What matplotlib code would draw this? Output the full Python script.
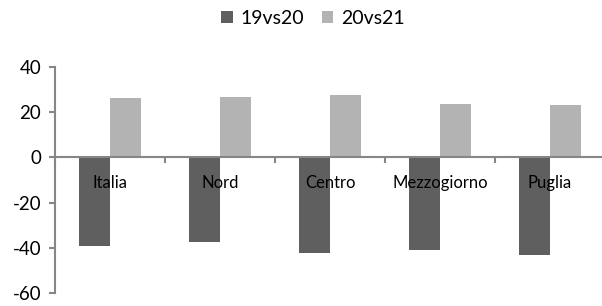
import matplotlib.pyplot as plt
import numpy as np

plt.rcParams['font.family'] = ['Lato', 'DejaVu Sans']
plt.rcParams['axes.unicode_minus'] = False

categories = ['Italia', 'Nord', 'Centro', 'Mezzogiorno', 'Puglia']
v19vs20 = [-39.3, -37.4, -42.4, -40.9, -43.4]
v20vs21 = [26.2, 26.6, 27.6, 23.5, 23.4]

axis_col = '#868686'
x = np.arange(len(categories))
w = 0.282

fig = plt.figure(figsize=(6.02, 3.06), dpi=100)
ax = fig.add_axes([55 / 602, 13 / 306, 550 / 602, 226 / 306])

ax.bar(x - w / 2, v19vs20, w, color='#5f5f5f', label='19vs20')
ax.bar(x + w / 2, v20vs21, w, color='#b3b3b3', label='20vs21')

ax.set_xlim(-0.5, len(categories) - 0.5)
ax.set_ylim(-60, 40)
ax.set_yticks([40, 20, 0, -20, -40, -60])

ax.spines['top'].set_visible(False)
ax.spines['right'].set_visible(False)
ax.spines['bottom'].set_position(('data', 0))
for s in ('left', 'bottom'):
    ax.spines[s].set_color(axis_col)
    ax.spines[s].set_linewidth(1.5)

ax.set_xticks(x)
ax.set_xticklabels(categories, fontsize=12)
ax.set_xticks(np.arange(len(categories) + 1) - 0.5, minor=True)
ax.tick_params(axis='x', which='major', length=0, pad=13)
ax.tick_params(axis='x', which='minor', length=4, width=1.5, color=axis_col, direction='out')
ax.tick_params(axis='y', length=4, width=1.5, color=axis_col, labelsize=13.5, pad=6)

fig.legend(loc='upper center', bbox_to_anchor=(0.52, 1.025), ncol=2, frameon=False,
           fontsize=14, handlelength=0.6, handleheight=0.6, handletextpad=0.4,
           columnspacing=0.9)

fig.savefig('out.png', dpi=100)
